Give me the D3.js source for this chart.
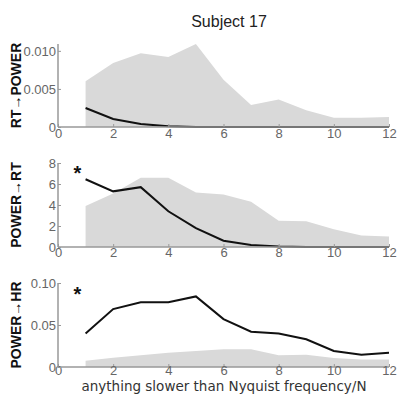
<!DOCTYPE html>
<html>
<head>
<meta charset="utf-8">
<script src="https://cdn.jsdelivr.net/npm/d3@7"></script>
<style>
  body { margin: 0; background: #fff; }
  text { font-family: "Liberation Sans", Arial, sans-serif; }
</style>
</head>
<body>
<svg id="chart" width="399" height="394"></svg>
<script>
// lag values on the x axis
const lags = [1, 2, 3, 4, 5, 6, 7, 8, 9, 10, 11, 12]
const xTicks = [0, 2, 4, 6, 8, 10, 12]

// RT -> POWER
const rtPowerLine = [0.0025, 0.00105, 0.0004, 0.0001, 0, 0, 0, 0, 0, 0, 0, 0]
const rtPowerBand = [0.006, 0.0084, 0.0097, 0.0092, 0.0109, 0.0062, 0.0029, 0.0036, 0.0022, 0.0012, 0.0012, 0.0013]
const rtPowerTicks = [0, 0.005, 0.010]

// POWER -> RT
const powerRtLine = [6.45, 5.3, 5.7, 3.4, 1.8, 0.6, 0.2, 0.05, 0, 0, 0, 0]
const powerRtBand = [3.9, 5.1, 6.6, 6.6, 5.2, 5.0, 4.3, 2.5, 2.45, 1.7, 1.1, 1.0]
const powerRtTicks = [0, 2, 4, 6, 8]

// POWER -> HR
const powerHrLine = [0.040, 0.069, 0.077, 0.077, 0.084, 0.057, 0.042, 0.040, 0.033, 0.019, 0.0145, 0.017]
const powerHrBand = [0.0075, 0.011, 0.014, 0.017, 0.019, 0.021, 0.021, 0.014, 0.0145, 0.0107, 0.009, 0.009]
const powerHrTicks = [0, 0.05, 0.10]

const zeroAware = f => d => d === 0 ? "0" : f(d)

const panels = [
    {label: "RT\u2192POWER", line: rtPowerLine, band: rtPowerBand, ticks: rtPowerTicks,
     fmt: zeroAware(d3.format(".3f")), max: 0.0109, top: 44, bottom: 127, star: null, pad: 2},
    {label: "POWER\u2192RT", line: powerRtLine, band: powerRtBand, ticks: powerRtTicks,
     fmt: d3.format("d"), max: 8, top: 163, bottom: 247, star: 7.1, pad: 1},
    {label: "POWER\u2192HR", line: powerHrLine, band: powerHrBand, ticks: powerHrTicks,
     fmt: zeroAware(d3.format(".2f")), max: 0.1, top: 283, bottom: 367, star: 0.088, pad: -1}
]

const svg = d3.select("#chart")
const x = d3.scaleLinear().domain([0, 12]).range([58, 389])
const axisColor = "#999"
const tickColor = "#666"

svg.append("text")
    .attr("x", 229).attr("y", 27)
    .attr("text-anchor", "middle")
    .attr("font-size", 16)
    .attr("fill", "#222")
    .text("Subject 17")

panels.forEach(p => {
    const y = d3.scaleLinear().domain([0, p.max]).range([p.bottom, p.top])
    const g = svg.append("g")

    // grey band
    const area = d3.area()
        .x((d, i) => x(lags[i]))
        .y0(y(0))
        .y1(d => y(d))
    g.append("path")
        .datum(p.band)
        .attr("fill", "#d9d9d9")
        .attr("d", area)

    // line
    const line = d3.line()
        .x((d, i) => x(lags[i]))
        .y(d => y(d))
    g.append("path")
        .datum(p.line)
        .attr("fill", "none")
        .attr("stroke", "#111")
        .attr("stroke-width", 2)
        .attr("d", line)

    // axes
    const xAxis = g.append("g")
        .attr("transform", `translate(0,${p.bottom})`)
        .call(d3.axisBottom(x).tickValues(xTicks).tickSize(-3).tickPadding(p.pad))
    const yAxis = g.append("g")
        .attr("transform", `translate(${x(0)},0)`)
        .call(d3.axisLeft(y).tickValues(p.ticks).tickFormat(p.fmt).tickSize(-3).tickPadding(2))
    ;[xAxis, yAxis].forEach(a => {
        a.select(".domain").attr("stroke", axisColor).attr("stroke-width", 1.5)
        a.selectAll(".tick line").attr("stroke", axisColor)
        a.selectAll(".tick text").attr("fill", tickColor).attr("font-size", 13)
            .style("font-family", "'Liberation Sans', Arial, sans-serif")
    })
    yAxis.select(".domain").attr("d", `M0,${p.top}V${p.bottom}`)
    xAxis.select(".domain").attr("d", `M${x(0)},0H${x(12)}`)

    // y label
    g.append("text")
        .attr("transform", `translate(21,${(p.top + p.bottom) / 2}) rotate(-90)`)
        .attr("text-anchor", "middle")
        .attr("font-size", 14)
        .attr("font-weight", "bold")
        .attr("fill", "#111")
        .text(p.label)

    if (p.star !== null) {
        g.append("text")
            .attr("x", x(0.7)).attr("y", y(p.star) + 8)
            .attr("text-anchor", "middle")
            .attr("font-size", 20)
            .attr("font-weight", "bold")
            .attr("fill", "#111")
            .text("*")
    }
})

svg.append("text")
    .attr("x", 224).attr("y", 391)
    .attr("text-anchor", "middle")
    .attr("font-size", 13.5)
    .attr("fill", "#333")
    .style("font-family", "'DejaVu Sans', Verdana, sans-serif")
    .text("anything slower than Nyquist frequency/N")
</script>
</body>
</html>
